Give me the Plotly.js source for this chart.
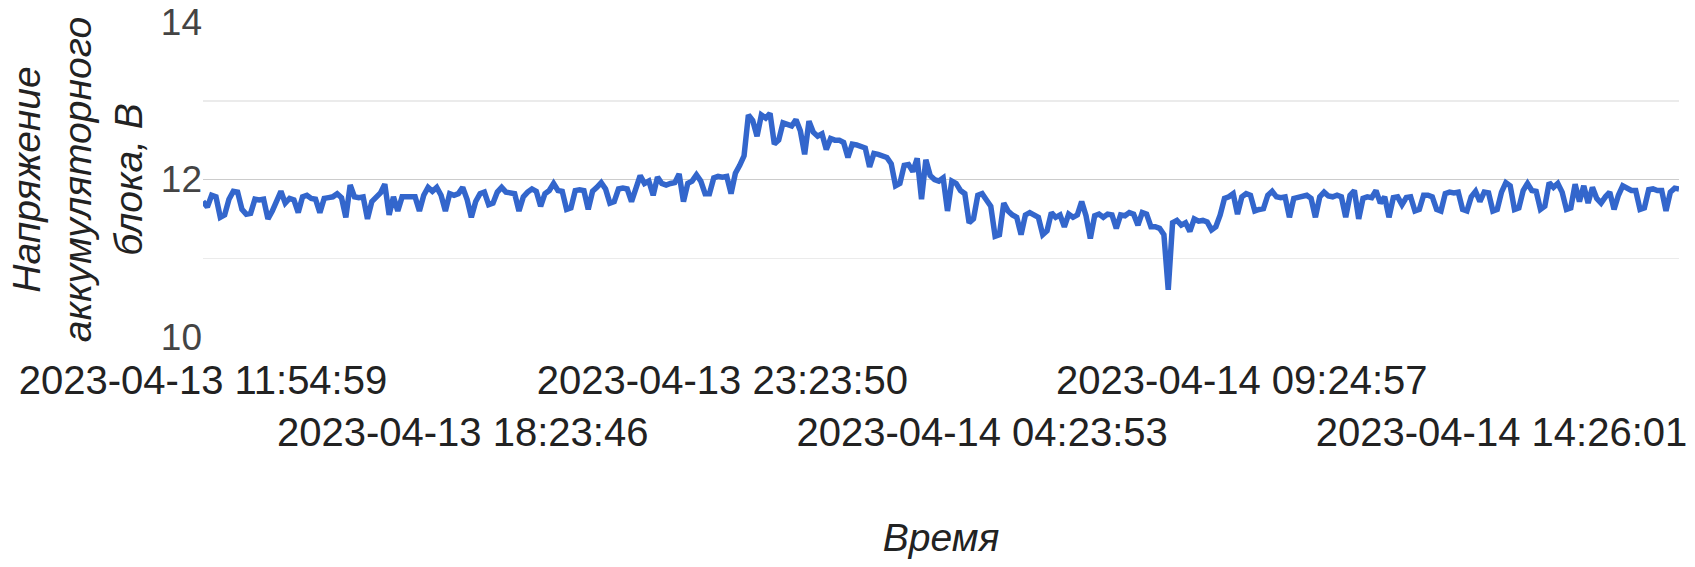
<!DOCTYPE html>
<html>
<head>
<meta charset="utf-8">
<script src="https://cdn.plot.ly/plotly-3.0.1.min.js"></script>
<style>html,body{margin:0;padding:0;background:#fff;}#chart{width:1695px;height:567px;}</style>
</head>
<body>
<div id="chart"></div>
<script>
// Battery voltage readings (V), in time order
const voltage = [
  // 2023-04-13 11:54:59 ...
  11.72,11.65,11.8,11.78,11.52,11.55,11.75,11.85,11.84,11.62,
  11.56,11.57,11.75,11.74,11.75,11.5,11.6,11.75,11.85,11.7,
  11.76,11.74,11.58,11.78,11.8,11.76,11.75,11.58,11.76,11.77,
  11.78,11.82,11.77,11.52,11.93,11.78,11.77,11.78,11.5,11.72,
  11.78,11.83,11.94,11.55,11.78,11.6,11.78,11.78,11.77,11.78,
  11.6,11.8,11.9,11.85,11.9,11.8,11.6,11.82,
  // ... 2023-04-13 18:23:46 ...
  11.8,11.82,11.9,11.75,11.52,11.72,11.82,11.84,11.68,11.7,
  11.84,11.9,11.84,11.83,11.82,11.6,11.78,11.84,11.88,11.85,
  11.66,11.82,11.86,11.95,11.86,11.85,11.62,11.64,11.86,11.87,
  11.86,11.62,11.85,11.9,11.96,11.88,11.7,11.72,11.88,11.89,
  11.88,11.72,11.9,12.05,11.95,11.98,11.8,12.03,11.95,11.93,
  11.95,11.96,12.07,11.72,11.95,11.98,
  // ... 2023-04-13 23:23:50 ...
  12.06,11.98,11.82,11.82,12.02,12.04,12.03,12.04,11.82,12.08,
  12.18,12.3,12.82,12.75,12.55,12.82,12.78,12.84,12.45,12.5,
  12.72,12.7,12.68,12.76,12.62,12.32,12.74,12.6,12.55,12.58,
  12.38,12.52,12.5,12.5,12.47,12.28,12.45,12.44,12.42,12.4,
  12.16,12.33,12.32,12.3,12.28,12.2,11.92,11.95,12.18,12.19,
  12.1,12.27,11.75,12.25,12.05,12.0,11.98,
  // ... 2023-04-14 04:23:53 ...
  12.02,11.6,11.98,11.95,11.86,11.82,11.45,11.5,11.8,11.82,
  11.74,11.66,11.28,11.3,11.7,11.6,11.55,11.52,11.3,11.55,
  11.58,11.54,11.52,11.3,11.35,11.58,11.52,11.55,11.4,11.56,
  11.52,11.55,11.72,11.54,11.25,11.54,11.56,11.52,11.56,11.55,
  11.38,11.55,11.54,11.58,11.56,11.42,11.58,11.56,11.4,11.4,
  11.38,11.3,10.6,11.45,11.48,
  // ... 2023-04-14 09:24:57 ...
  11.42,11.45,11.34,11.5,11.47,11.48,11.46,11.36,11.4,11.55,
  11.76,11.78,11.82,11.56,11.78,11.82,11.8,11.6,11.62,11.63,
  11.8,11.85,11.78,11.77,11.78,11.52,11.76,11.77,11.78,11.8,
  11.76,11.52,11.78,11.84,11.79,11.78,11.8,11.78,11.52,11.8,
  11.86,11.5,11.76,11.78,11.77,11.86,11.7,11.78,11.52,11.77,
  11.78,11.68,11.77,11.78,11.6,11.62,11.8,
  // ... 2023-04-14 14:26:01 ...
  11.8,11.78,11.62,11.6,11.82,11.84,11.83,11.84,11.62,11.6,
  11.78,11.85,11.72,11.84,11.83,11.6,11.62,11.84,11.96,11.92,
  11.62,11.64,11.86,11.95,11.86,11.85,11.62,11.66,11.96,11.9,
  11.95,11.84,11.62,11.64,11.94,11.72,11.92,11.7,11.9,11.76,
  11.7,11.78,11.84,11.62,11.8,11.92,11.88,11.86,11.86,11.62,
  11.64,11.87,11.88,11.86,11.86,11.6,11.84,11.89,11.88
];

// Category tick labels (every 60th reading is labelled)
const tickLabels = [
  '2023-04-13 11:54:59',
  '2023-04-13 18:23:46',
  '2023-04-13 23:23:50',
  '2023-04-14 04:23:53',
  '2023-04-14 09:24:57',
  '2023-04-14 14:26:01'
];
const labelEvery = 60;

const xTitle = 'Время';
const yTitle = 'Напряжение<br>аккумуляторного<br>блока, В';

const xIdx = voltage.map((_, i) => i);
const tickVals = tickLabels.map((_, k) => k * labelEvery);
const tickText = tickLabels.map((t, k) => (k % 2 === 1 ? '<br>' + t : t));

const FONT = 'Arial, "Liberation Sans", sans-serif';

Plotly.newPlot('chart', [{
  x: xIdx,
  y: voltage,
  type: 'scatter',
  mode: 'lines',
  line: {color: '#3366cc', width: 5.5},
  hoverinfo: 'skip'
}], {
  width: 1695,
  height: 567,
  margin: {l: 203, r: 16, t: 22, b: 230},
  paper_bgcolor: '#ffffff',
  plot_bgcolor: '#ffffff',
  showlegend: false,
  font: {family: FONT, color: '#222222'},
  xaxis: {
    type: 'linear',
    range: [0, voltage.length - 1],
    tickmode: 'array',
    tickvals: tickVals,
    ticktext: tickText,
    tickangle: 0,
    showgrid: false,
    zeroline: false,
    showline: false,
    ticks: '',
    ticklabelstandoff: 16,
    tickfont: {family: FONT, size: 40, color: '#222222'},
    title: {text: xTitle, font: {family: FONT, size: 39, color: '#222222', style: 'italic'}, standoff: 70}
  },
  yaxis: {
    range: [10, 14],
    tickmode: 'linear',
    tick0: 10,
    dtick: 2,
    showgrid: true,
    gridcolor: '#cccccc',
    gridwidth: 1.5,
    zeroline: false,
    showline: false,
    ticks: '',
    tickfont: {family: FONT, size: 37, color: '#444444'},
    minor: {dtick: 1, tick0: 10, showgrid: true, gridcolor: '#ebebeb', gridwidth: 1.5, ticks: ''},
    title: {text: yTitle, font: {family: FONT, size: 39, color: '#222222', style: 'italic'}, standoff: 6}
  }
}, {staticPlot: true});
</script>
</body>
</html>
